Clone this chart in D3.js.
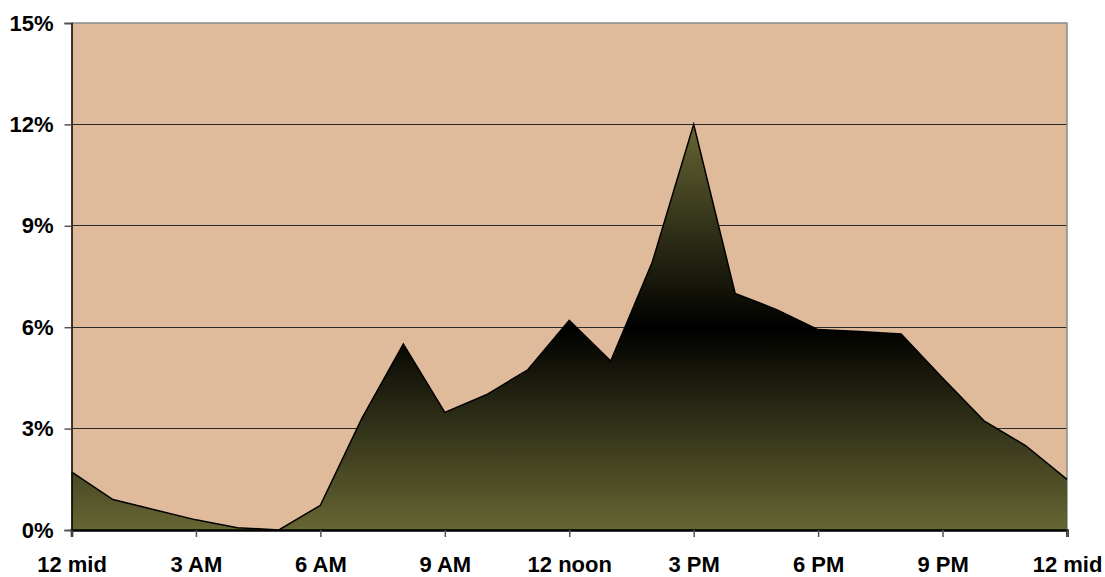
<!DOCTYPE html>
<html>
<head>
<meta charset="utf-8">
<script src="https://cdn.jsdelivr.net/npm/d3@7"></script>
<style>
  html, body { margin: 0; padding: 0; background: #ffffff; }
  svg { display: block; }
  text { font-family: "Liberation Sans", Arial, sans-serif; font-weight: bold; fill: #000; }
</style>
</head>
<body>
<svg id="chart" width="1105" height="577"></svg>
<script>
// Share of daily activity by hour (0 = midnight … 24 = midnight next day)
const hours = [0, 1, 2, 3, 4, 5, 6, 7, 8, 9, 10, 11, 12, 13, 14, 15, 16, 17, 18, 19, 20, 21, 22, 23, 24];
const shares = [1.72, 0.9, 0.6, 0.3, 0.07, 0, 0.73, 3.3, 5.5, 3.48, 4.0, 4.74, 6.2, 5.0, 7.92, 12.0, 7.0, 6.52, 5.93, 5.87, 5.8, 4.5, 3.23, 2.5, 1.5];

const xTickHours = [0, 3, 6, 9, 12, 15, 18, 21, 24];
const xTickLabels = ["12 mid", "3 AM", "6 AM", "9 AM", "12 noon", "3 PM", "6 PM", "9 PM", "12 mid"];
const yTicks = [0, 3, 6, 9, 12, 15];

const svg = d3.select("#chart");
const plotLeft = 71.5, plotRight = 1067, plotTop = 23, plotBottom = 530;

const x = d3.scaleLinear().domain([0, 24]).range([plotLeft, plotRight]);
const y = d3.scaleLinear().domain([0, 15]).range([plotBottom, plotTop]);

// Plot background
svg.append("rect")
  .attr("x", plotLeft).attr("y", plotTop)
  .attr("width", plotRight - plotLeft).attr("height", plotBottom - plotTop)
  .attr("fill", "#dfbb9b");

// Horizontal gridlines
svg.append("g")
  .selectAll("line")
  .data(yTicks.filter(d => d > 0 && d < 15))
  .join("line")
  .attr("x1", plotLeft).attr("x2", plotRight)
  .attr("y1", d => y(d)).attr("y2", d => y(d))
  .attr("stroke", "#2a2a2a").attr("stroke-width", 1)
  .attr("shape-rendering", "crispEdges");

// Top and right frame
svg.append("path")
  .attr("d", `M${plotLeft},${y(15)}H${plotRight}V${plotBottom}`)
  .attr("fill", "none").attr("stroke", "#8a8a8a").attr("stroke-width", 1.5);

// Area fill gradient: olive → black → olive
const defs = svg.append("defs");
const grad = defs.append("linearGradient")
  .attr("id", "areaFill")
  .attr("x1", 0).attr("y1", 0).attr("x2", 0).attr("y2", 1);
grad.append("stop").attr("offset", "0%").attr("stop-color", "#666633");
grad.append("stop").attr("offset", "50%").attr("stop-color", "#000000");
grad.append("stop").attr("offset", "100%").attr("stop-color", "#666633");

const data = hours.map((h, i) => ({ h, v: shares[i] }));

const area = d3.area()
  .x(d => x(d.h))
  .y0(y(0))
  .y1(d => y(d.v));

svg.append("path")
  .datum(data)
  .attr("d", area)
  .attr("fill", "url(#areaFill)")
  .attr("stroke", "none");

svg.append("path")
  .datum(data)
  .attr("d", d3.line().x(d => x(d.h)).y(d => y(d.v)))
  .attr("fill", "none")
  .attr("stroke", "#000")
  .attr("stroke-width", 1.5)
  .attr("stroke-linejoin", "miter");

// Y axis
const yAxis = svg.append("g")
  .attr("transform", `translate(${plotLeft},0)`)
  .call(d3.axisLeft(y).tickValues(yTicks).tickFormat(d => d + "%").tickSize(7).tickPadding(11));
yAxis.select(".domain").attr("stroke", "#000").attr("stroke-width", 1.5);
yAxis.selectAll(".tick line").attr("stroke", "#555").attr("stroke-width", 1.5);
yAxis.selectAll(".tick text")
  .attr("font-size", 22)
  .attr("font-family", "Liberation Sans, Arial, sans-serif")
  .attr("font-weight", "bold")
  .attr("fill", "#000");

// X axis
const xAxis = svg.append("g")
  .attr("transform", `translate(0,${plotBottom})`)
  .call(d3.axisBottom(x).tickValues(xTickHours)
    .tickFormat((d, i) => xTickLabels[i]).tickSize(7).tickPadding(19));
xAxis.select(".domain").attr("stroke", "#000").attr("stroke-width", 2.5);
xAxis.selectAll(".tick line").attr("stroke", "#555").attr("stroke-width", 1.5);
xAxis.selectAll(".tick text")
  .attr("font-size", 22)
  .attr("font-family", "Liberation Sans, Arial, sans-serif")
  .attr("font-weight", "bold")
  .attr("fill", "#000");
</script>
</body>
</html>
